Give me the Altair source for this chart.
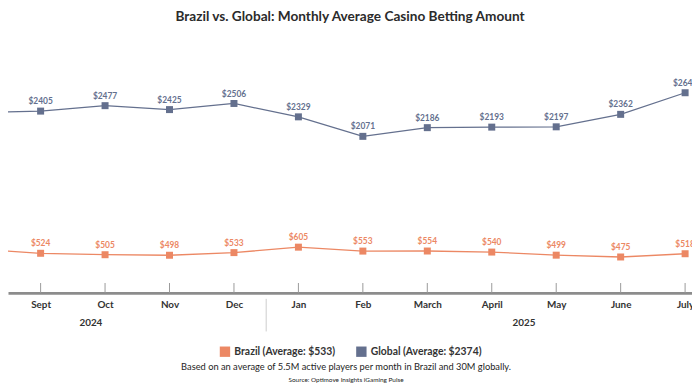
import altair as alt
import pandas as pd

months = ["Aug", "Sept", "Oct", "Nov", "Dec", "Jan", "Feb", "March", "April", "May", "June", "July"]
global_vals = [2385, 2405, 2477, 2425, 2506, 2329, 2071, 2186, 2193, 2197, 2362, 2648]
brazil_vals = [580, 524, 505, 498, 533, 605, 553, 554, 540, 499, 475, 518]
series_names = ["Brazil (Average: $533)", "Global (Average: $2374)"]
series_colors = ["#ec8864", "#64708e"]
years = ["2024", "2025"]
year_pos = [1.78, 8.5]
sep_pos = [4.5]
title_text = "Brazil vs. Global: Monthly Average Casino Betting Amount"
footnote = "Based on an average of 5.5M active players per month in Brazil and 30M globally."
source = "Source: Optimove Insights iGaming Pulse"

rows = []
for i, m in enumerate(months):
    rows.append({"idx": i, "month": m, "series": series_names[0], "value": brazil_vals[i],
                 "label": f"${brazil_vals[i]}"})
    rows.append({"idx": i, "month": m, "series": series_names[1], "value": global_vals[i],
                 "label": f"${global_vals[i]}"})
df = pd.DataFrame(rows)
tick_df = pd.DataFrame({"idx": list(range(1, len(months)))})
year_df = pd.DataFrame({"year": years, "pos": year_pos})
sep_df = pd.DataFrame({"pos": sep_pos})
note_df = pd.DataFrame({"t": [footnote]})
src_df = pd.DataFrame({"t": [source]})

W, H = 692, 260
FONT = "Lato"
xscale = alt.Scale(domain=[0.494, 11.107], nice=False, zero=False)
yscale = alt.Scale(domain=[0, 3400], nice=False)
cscale = alt.Scale(domain=series_names, range=series_colors)
label_expr = "[" + ",".join(f"'{m}'" for m in months) + "][datum.value]"

legend = alt.Legend(title=None, orient="none", direction="horizontal",
                    legendX=214, legendY=314, symbolType="square",
                    symbolSize=110, symbolOpacity=1, symbolStrokeWidth=0,
                    labelFont=FONT, labelFontSize=10.5, labelFontWeight="bold",
                    labelColor="#333333", columnPadding=20)
color_enc = alt.Color("series:N", scale=cscale, legend=legend)

x_axis = alt.X("idx:Q", scale=xscale, title=None,
               axis=alt.Axis(values=list(range(1, len(months))), labelExpr=label_expr,
                             grid=False, ticks=False, domainColor="#8c8c8c", domainWidth=3,
                             labelFont=FONT, labelFontSize=10, labelFontWeight="bold",
                             labelColor="#333333", labelPadding=7))
y_enc = alt.Y("value:Q", scale=yscale, axis=None)

base = alt.Chart(df)
points = base.mark_point(shape="square", filled=True, size=50, opacity=1, clip=True).encode(
    x=x_axis, y=y_enc, color=color_enc)
lines = base.mark_line(strokeWidth=1.3, clip=True).encode(
    x=alt.X("idx:Q", scale=xscale), y=y_enc, color=color_enc)
labels = base.mark_text(dy=-10, fontSize=8.5, fontWeight="bold", font=FONT, clip=True).encode(
    x=alt.X("idx:Q", scale=xscale), y=y_enc, text="label:N", color=color_enc)
ticks = alt.Chart(tick_df).mark_rule(color="#9a9a9a", strokeWidth=1).encode(
    x=alt.X("idx:Q", scale=xscale), y=alt.value(H - 10), y2=alt.value(H))
year_text = alt.Chart(year_df).mark_text(fontSize=10, font=FONT, fontWeight="bold",
                                         color="#333333").encode(
    x=alt.X("pos:Q", scale=xscale), y=alt.value(H + 30), text="year:N")
sep = alt.Chart(sep_df).mark_rule(color="#cccccc", strokeWidth=1).encode(
    x=alt.X("pos:Q", scale=xscale), y=alt.value(H + 6), y2=alt.value(H + 39))
note = alt.Chart(note_df).mark_text(fontSize=9.4, font=FONT, color="#1e1e1e").encode(
    x=alt.value(342), y=alt.value(H + 75), text="t:N")
src = alt.Chart(src_df).mark_text(fontSize=6.5, font=FONT, color="#222222").encode(
    x=alt.value(342), y=alt.value(H + 88), text="t:N")

chart = alt.layer(points, ticks, lines, labels, year_text, sep, note, src).properties(
    width=W, height=H,
    title=alt.TitleParams(title_text, font=FONT, fontSize=13.8, fontWeight="bold",
                          color="#2b2b2b", anchor="middle", offset=12),
    autosize=alt.AutoSizeParams(type="none"),
    padding={"left": 0, "right": 0, "top": 26, "bottom": 94},
).configure_view(stroke=None)

chart.save("out.html", embed_options={"renderer": "svg", "actions": False})
